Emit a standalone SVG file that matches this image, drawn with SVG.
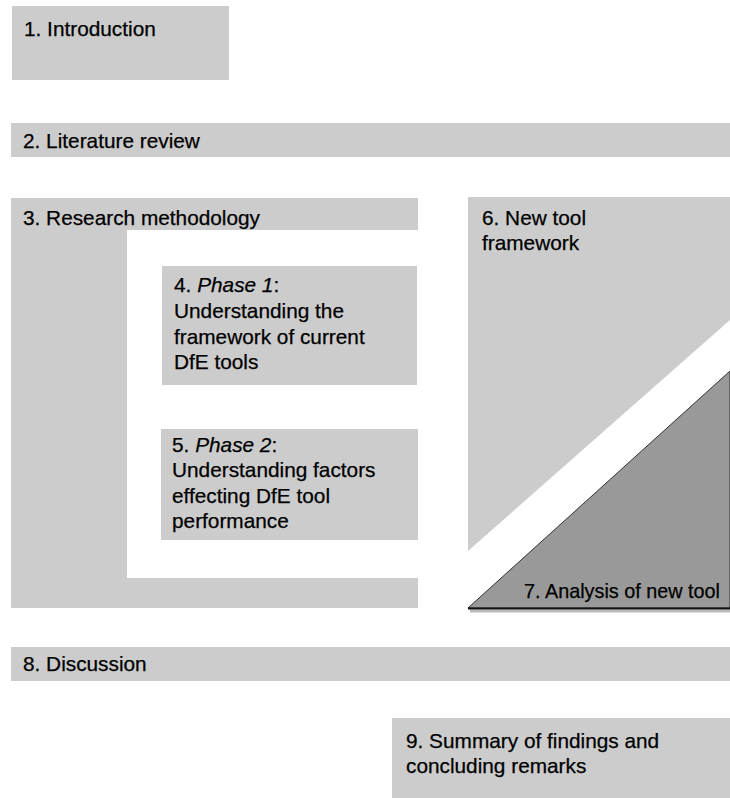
<svg xmlns="http://www.w3.org/2000/svg" width="730" height="798" viewBox="0 0 730 798">
<style>
.box{fill:#cccccc;}
.dark{fill:#999999;}
text{font-family:"Liberation Sans",Arial,sans-serif;font-size:20.8px;fill:#000;stroke:#000;stroke-width:0.25px;}
</style>
<rect width="730" height="798" fill="#ffffff"/>
<g id="n1"><rect class="box" x="12" y="6" width="217" height="74"/><text x="24" y="36">1. Introduction</text></g>
<g id="n2"><rect class="box" x="11" y="123" width="719" height="34"/><text x="23" y="148">2. Literature review</text></g>
<g id="n3"><path class="box" d="M11 198 H418 V230 H127 V578 H418 V608 H11 Z"/><text x="23" y="225">3. Research methodology</text></g>
<g id="n4"><rect class="box" x="162" y="266" width="255" height="119"/>
<text x="174" y="292">4. <tspan font-style="italic">Phase 1</tspan>:</text>
<text x="174" y="318">Understanding the</text>
<text x="174" y="344">framework of current</text>
<text x="174" y="369">DfE tools</text></g>
<g id="n5"><rect class="box" x="161" y="429" width="257" height="111"/>
<text x="172" y="452">5. <tspan font-style="italic">Phase 2</tspan>:</text>
<text x="172" y="477">Understanding factors</text>
<text x="172" y="503">effecting DfE tool</text>
<text x="172" y="528">performance</text></g>
<g id="n6"><path class="box" d="M468 197 H730 V320 L468 551 Z"/>
<text x="482" y="225">6. New tool</text><text x="482" y="250">framework</text></g>
<g id="n7"><line x1="470" y1="611" x2="730" y2="611" stroke="#bbbbbb" stroke-width="3"/>
<path class="dark" d="M468 608 L730 371 V608 Z" stroke="#333333" stroke-width="1"/>
<line x1="468" y1="608.5" x2="730" y2="608.5" stroke="#111111" stroke-width="2"/>
<text x="524" y="598" textLength="196" lengthAdjust="spacingAndGlyphs">7. Analysis of new tool</text></g>
<g id="n8"><rect class="box" x="11" y="647" width="719" height="34"/><text x="23" y="671">8. Discussion</text></g>
<g id="n9"><rect class="box" x="392" y="718" width="338" height="80"/>
<text x="406" y="748">9. Summary of findings and</text><text x="406" y="773">concluding remarks</text></g>
<g id="connectors"></g>
</svg>
